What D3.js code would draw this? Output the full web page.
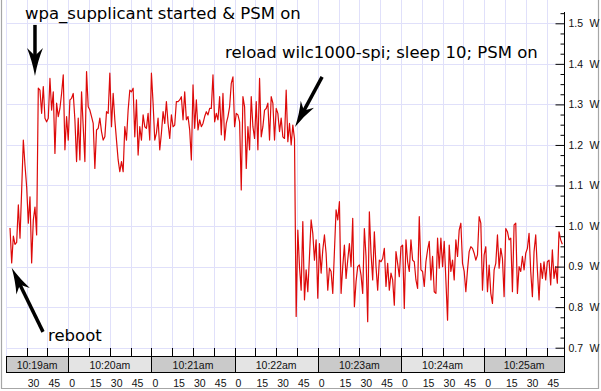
<!DOCTYPE html>
<html><head><meta charset="utf-8">
<script src="https://cdn.jsdelivr.net/npm/d3@7"></script>
<style>html,body{margin:0;padding:0;background:#fff;}svg{display:block;}</style>
</head><body>
<svg id="chart" width="601" height="391"></svg>
<script>
// ---- data (power in W, sampled every 1.2 s, starting 10:19:18) ----
const bootValues = [0.995,0.909,0.975,0.955,0.960,1.052,0.970,1.089,1.212,1.150,1.097,1.007,1.072,0.909,1.015,1.047,0.978];
const plateauValues = [
1.340,1.335,1.278,1.344,1.266,1.257,1.266,1.364,1.286,1.331,1.179,1.303,1.270,1.290,1.327,1.373,1.188,1.270,1.212,1.311,
1.315,1.327,1.262,1.159,1.266,1.163,1.331,1.245,1.159,1.381,1.294,1.286,1.270,1.253,1.142,1.237,1.241,1.266,1.233,1.212,
1.220,1.282,1.278,1.377,1.245,1.327,1.262,1.212,1.163,1.134,1.159,1.134,1.245,1.212,1.286,1.335,1.331,1.340,1.220,1.311,
1.175,1.245,1.212,1.274,1.245,1.241,1.278,1.212,1.377,1.303,1.212,1.229,1.266,1.188,1.229,1.282,1.253,1.307,1.253,1.216,
1.274,1.245,1.249,1.307,1.307,1.311,1.319,1.262,1.331,1.262,1.270,1.237,1.163,1.348,1.241,1.311,1.237,1.262,1.245,1.253,
1.270,1.282,1.274,1.290,1.290,1.373,1.257,1.278,1.262,1.319,1.225,1.327,1.212,1.253,1.270,1.294,1.352,1.368,1.245,1.278,
1.274,1.257,1.089,1.319,1.294,1.142,1.245,1.188,1.319,1.245,1.216,1.307,1.188,1.364,1.220,1.245,1.286,1.290,1.303,1.212,
1.319,1.303,1.212,1.290,1.278,1.233,1.266,1.220,1.216,1.335,1.208,1.253,1.200,1.249,1.215];
const psmValues = [
0.777,0.990,0.900,0.842,1.011,0.818,0.892,0.838,0.925,1.015,0.982,0.916,0.966,0.822,0.957,0.884,0.941,0.978,0.933,0.842,
0.896,0.888,0.834,0.937,1.040,1.015,1.060,0.834,0.900,0.953,0.871,0.916,0.957,0.900,1.019,0.801,0.863,0.900,0.904,0.879,
0.834,0.994,0.925,0.764,1.035,0.933,0.867,0.986,0.900,0.842,0.916,0.912,0.920,0.945,0.851,0.908,0.842,0.884,0.867,0.805,
0.937,0.908,0.875,0.949,0.953,0.797,0.966,0.912,0.888,0.966,0.916,0.912,
0.867,0.846,1.023,0.892,0.888,0.851,0.912,0.941,0.962,0.867,
0.925,0.838,0.834,0.970,0.896,0.970,0.900,0.962,0.867,0.768,
0.953,0.888,0.916,0.867,0.966,0.925,0.990,1.007,0.908,0.888,
0.838,0.892,0.937,0.949,0.945,0.933,0.916,0.929,1.023,1.007,
0.842,0.929,0.949,0.838,0.904,0.834,0.809,0.892,0.908,0.978,
0.896,0.945,0.920,0.826,0.994,0.986,0.966,0.970,0.838,1.003,
1.007,0.834,0.900,0.888,0.925,0.892,0.933,0.945,0.982,0.888,
0.826,0.937,0.978,0.892,0.818,0.908,0.871,0.912,0.867,0.912,
0.916,0.855,0.941,0.871,0.900,0.859,0.986,0.966,0.955];
const sampleStart = 18.0;   // seconds after 10:19:00
const sampleStep = 1.2;     // seconds
const timeDomain = [15.1, 417.6];   // seconds after 10:19:00
const yTickValues = [0.7,0.8,0.9,1.0,1.1,1.2,1.3,1.4,1.5];
const yUnit = "W";
const minuteLabels = ["10:19am","10:20am","10:21am","10:22am","10:23am","10:24am","10:25am"];
const secondLabels = ["0","15","30","45"];
const annotationTexts = ["wpa_supplicant started & PSM on","reload wilc1000-spi; sleep 10; PSM on","reboot"];

// ---- drawing ----
const svg = d3.select("#chart");
const X0 = 6, X1 = 564, BAND_TOP = 356, BAND_BOT = 372;
const x = d3.scaleLinear().domain(timeDomain).range([X0, X1]);
const y = d3.scaleLinear().domain([0.7, 1.5]).range([347.7, 23.3]);

const values = bootValues.concat(plateauValues, psmValues);
const series = values.map((v, i) => ({t: sampleStart + i * sampleStep, v}));

// outer frame
svg.append("path").attr("d","M1.5,0V388.5H598.5V0").attr("fill","none").attr("stroke","#a6a6a6").attr("stroke-width",1.2);

// grid
const gridT = d3.range(15, timeDomain[1], 15);
svg.append("g").selectAll("line").data(gridT).join("line")
  .attr("x1", d => Math.round(x(d)) + 0.5).attr("x2", d => Math.round(x(d)) + 0.5)
  .attr("y1", 0).attr("y2", BAND_TOP)
  .attr("stroke", "#e0e0fa").attr("stroke-width", 1);
svg.append("g").selectAll("line").data(yTickValues).join("line")
  .attr("x1", X0).attr("x2", X1)
  .attr("y1", d => Math.round(y(d)) + 0.5).attr("y2", d => Math.round(y(d)) + 0.5)
  .attr("stroke", "#e0e0fa").attr("stroke-width", 1);

// data line
const line = d3.line().x(d => x(d.t)).y(d => y(d.v));
svg.append("path").datum(series).attr("d", line)
  .attr("fill", "none").attr("stroke", "#dd0a0a").attr("stroke-width", 1.2).attr("stroke-linejoin","round");

// right axis
const axisG = svg.append("g").attr("transform", `translate(${X1 + 0.5},0)`);
const majorG = axisG.append("g");
majorG.call(d3.axisRight(y).tickValues(yTickValues).tickSizeInner(-9).tickSizeOuter(0).tickPadding(4)
  .tickFormat(d => d.toFixed(1)));
majorG.select(".domain").remove();
majorG.selectAll(".tick text").attr("font-family", "Liberation Sans, Arial, sans-serif").attr("font-size", 10.5).attr("fill", "#111")
  .append("tspan").attr("x", 25).text(yUnit);
const minorT = d3.range(0, 34).map(k => +(0.7 + k * 0.025).toFixed(3)).filter(d => Math.abs(d * 10 - Math.round(d * 10)) > 1e-6);
const minorG = axisG.append("g");
minorG.call(d3.axisRight(y).tickValues(minorT).tickSizeInner(-4).tickSizeOuter(0).tickFormat(""));
minorG.select(".domain").remove();
minorG.selectAll("text").remove();
axisG.selectAll("line").attr("stroke", "#000");
axisG.append("line").attr("x1", 0).attr("x2", 0).attr("y1", 12).attr("y2", BAND_BOT).attr("stroke", "#000");

// bottom: ticks above the band
const tickT = d3.range(30, timeDomain[1], 15);
svg.append("g").selectAll("line").data(tickT).join("line")
  .attr("x1", d => Math.round(x(d)) + 0.5).attr("x2", d => Math.round(x(d)) + 0.5)
  .attr("y1", 348).attr("y2", BAND_TOP).attr("stroke", "#000");

// minute band
const band = svg.append("g");
minuteLabels.forEach((lab, i) => {
  const a = Math.max(x(i * 60), X0), b = Math.min(x(i * 60 + 60), X1);
  const xa = Math.round(a) + 0.5, xb = Math.round(b) + 0.5;
  band.append("rect").attr("x", xa).attr("y", BAND_TOP + 0.5).attr("width", xb - xa).attr("height", BAND_BOT - BAND_TOP)
    .attr("fill", i % 2 === 0 ? "#cacaca" : "#e4e4e4").attr("stroke", "#000").attr("stroke-width", 1);
  band.append("text").attr("x", (a + b) / 2).attr("y", 368.5).attr("text-anchor", "middle")
    .attr("font-family", "Liberation Sans, Arial, sans-serif").attr("font-size", 10.5).attr("fill", "#111").text(lab);
});

// second labels
svg.append("g").selectAll("text").data(tickT).join("text")
  .attr("x", d => x(d) + 1).attr("y", 386.5)
  .attr("font-family", "Liberation Sans, Arial, sans-serif").attr("font-size", 10.5).attr("fill", "#111")
  .text(d => secondLabels[Math.round((d % 60) / 15)]);

// annotations
const ann = svg.append("g").attr("font-family", "DejaVu Sans, sans-serif").attr("font-size", 16.5).attr("fill", "#000");
ann.append("text").attr("x", 25).attr("y", 19).text(annotationTexts[0]);
ann.append("text").attr("x", 225).attr("y", 58).text(annotationTexts[1]);
ann.append("text").attr("x", 48).attr("y", 341).text(annotationTexts[2]);

function arrow(tail, tip, headLen, headW) {
  const [x0, y0] = tail, [x1, y1] = tip;
  const ang = Math.atan2(y1 - y0, x1 - x0) * 180 / Math.PI;
  const len = Math.hypot(x1 - x0, y1 - y0);
  const g = svg.append("g").attr("transform", `translate(${x1},${y1}) rotate(${ang})`);
  g.append("line").attr("x1", -len).attr("y1", 0).attr("x2", -headLen * 0.6).attr("y2", 0)
    .attr("stroke", "#000").attr("stroke-width", 3.5);
  const L = headLen, W = headW / 2;
  g.append("path").attr("d", `M0,0 Q${-L*0.55},${-W*0.35} ${-L},${-W} L${-L*0.72},0 L${-L},${W} Q${-L*0.55},${W*0.35} 0,0Z`)
    .attr("fill", "#000");
}
// arrows anchored in data coordinates
arrow([x(36.0), y(1.496)], [x(36.0), y(1.37)], 28, 16);
arrow([x(243.1), y(1.368)], [x(223.6), y(1.244)], 26, 15);
arrow([x(41.8), y(0.739)], [x(19.2), y(0.897)], 26, 15);
</script>
</body></html>
